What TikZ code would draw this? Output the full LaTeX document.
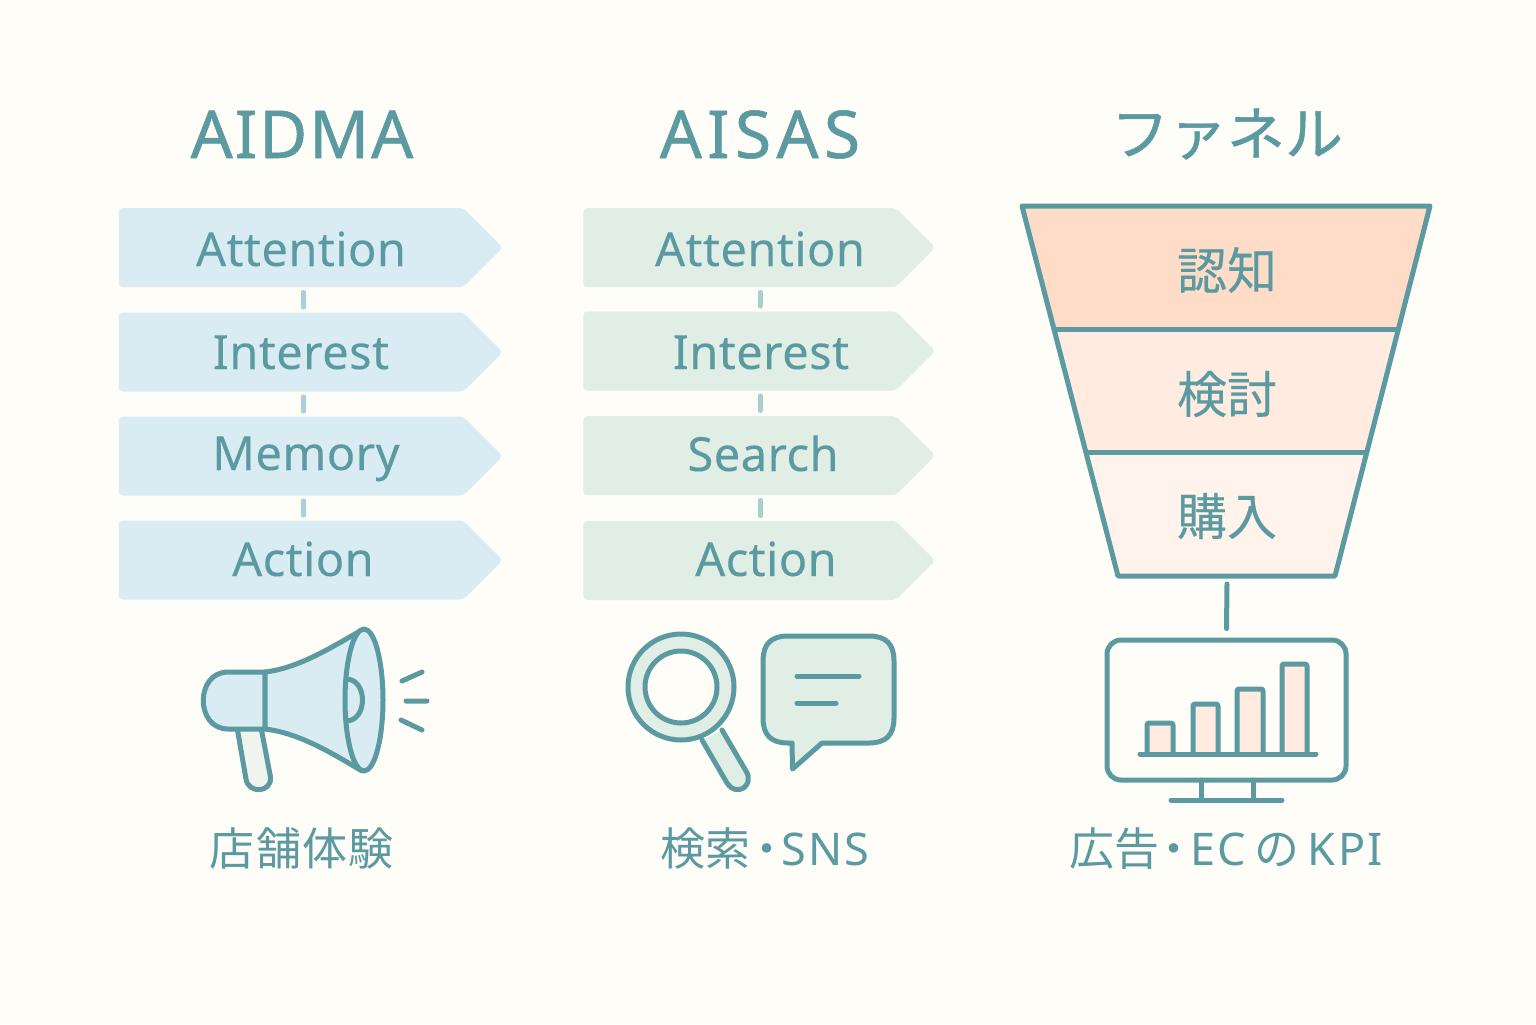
\documentclass[tikz,border=0pt]{standalone}
\usepackage{fontspec}
\setmainfont{Noto Sans}
\newfontfamily\cjk{Noto Sans CJK JP}
\usetikzlibrary{shapes.symbols}
\definecolor{paper}{HTML}{FFFDF8}
\definecolor{teal}{HTML}{5B9AA0}
\definecolor{linkblue}{HTML}{A9CFD9}
\definecolor{linkgreen}{HTML}{AACFCB}
\definecolor{skyfill}{HTML}{D9EBF3}
\definecolor{mintfill}{HTML}{E0EEE6}
\definecolor{peachA}{HTML}{FFDCC8}
\definecolor{peachB}{HTML}{FFEBE0}
\definecolor{peachC}{HTML}{FFF3EC}
\begin{document}
\begin{tikzpicture}[x=.5pt,y=-.5pt,line join=round,line cap=round]
	\tikzset{
		title/.style={text=teal,anchor=base},
		steptext/.style={text=teal,anchor=base,font=\fontsize{23.5}{28}\selectfont\addfontfeature{LetterSpace=1,FakeBold=0.15}},
		caption/.style={text=teal,anchor=base,font=\fontsize{22.5}{26}\selectfont},
		funneltext/.style={text=teal,font=\cjk\fontsize{25}{28}\selectfont\addfontfeature{FakeBold=0.3}},
		stepbox/.style={signal,signal to=east,signal pointer angle=90,rounded corners=2pt,
			minimum height=39.5pt,inner sep=0pt},
		aidmabox/.style={stepbox,fill=skyfill,minimum width=192pt},
		aisasbox/.style={stepbox,fill=mintfill,minimum width=176pt},
		icon/.style={draw=teal,line width=2.5pt},
		link/.style={line width=2.5pt}
	}
	\useasboundingbox[fill=paper] (0,0) rectangle (1536,1024);
	% titles
	\node[title,font=\fontsize{33}{36}\selectfont\addfontfeature{FakeBold=0.8,LetterSpace=3}] (aidma) at (302,158) {AIDMA};
	\node[title,font=\fontsize{33}{36}\selectfont\addfontfeature{FakeBold=0.8,LetterSpace=8}] (aisas) at (760,158) {AISAS};
	\node[text=teal,font=\cjk\fontsize{29}{32}\selectfont\addfontfeature{FakeBold=0.8}] (funnel) at (1227,134) {ファネル};
	% step columns
	\foreach \n/\y/\lab/\tx/\b in {1/247.5/Attention/301/266,2/352/Interest/301/369,3/456/Memory/306/470,4/560/Action/303/576}{
		\node[aidmabox] (a\n) at (291,\y) {};
		\node[steptext] (at\n) at (\tx,\b) {\lab};
	}
	\foreach \n/\y/\lab/\tx/\b in {1/247.5/Attention/760/266,2/351/Interest/761/369,3/455.5/Search/763/471,4/560.5/Action/766/576}{
		\node[aisasbox] (s\n) at (739.5,\y) {};
		\node[steptext] (st\n) at (\tx,\b) {\lab};
	}
	\foreach \a/\b in {1/2,2/3,3/4}{
		\draw[link,linkblue] ([shift={(12.5,5)}]a\a.south) -- ([shift={(12.5,-5)}]a\b.north);
		\draw[link,linkgreen] ([shift={(20.5,5)}]s\a.south) -- ([shift={(20.5,-5)}]s\b.north);
	}
	% funnel
	\coordinate (fbot) at (1227,576);
	\fill[peachA] (1022,206)--(1430,206)--(1396,329)--(1054,329)--cycle;
	\fill[peachB] (1054,329)--(1396,329)--(1364,452)--(1087,452)--cycle;
	\fill[peachC] (1087,452)--(1364,452)--(1335,576)--(1118,576)--cycle;
	\draw[icon] (1022,206)--(1430,206)--(1335,576)--(1118,576)--cycle;
	\draw[icon] (1054,329)--(1396,329);
	\draw[icon] (1087,452)--(1364,452);
	\node[funneltext] (f1) at (1227,270) {認知};
	\node[funneltext] (f2) at (1227,394) {検討};
	\node[funneltext] (f3) at (1227,516) {購入};
	% monitor
	\node[icon,rounded corners=7pt,minimum width=119.5pt,minimum height=70pt,inner sep=0pt] (monitor) at (1226.5,710) {};
	\draw[icon] ([shift={(0,8)}]fbot) -- ([shift={(0,-9)}]monitor.north);
	\foreach \l/\r/\t in {1147/1173/723,1193/1218/704,1237/1263/689,1282/1307/664}
		\draw[icon,fill=peachB,rounded corners=1pt] (\l,754)--(\l,\t)--(\r,\t)--(\r,754);
	\draw[icon] (1140,754)--(1316,754);
	\draw[icon] (1201,780)--(1201,800) (1253,780)--(1253,800) (1171,800)--(1282,800);
	% megaphone
	\draw[icon,fill=black!3!mintfill!40!paper] (237.5,730)--(246,779) .. controls (248,794) and (272,793) .. (270.5,777)--(261.5,730);
	\draw[icon,fill=skyfill] (265,672)--(228,672) .. controls (195,672) and (195,729) .. (228,729)--(265,729)--cycle;
	\draw[icon,fill=skyfill] (265,672) .. controls (300,668) and (335,645) .. (362,630)
		-- (362,771) .. controls (335,755) and (300,733) .. (265,729)--cycle;
	\draw[icon,fill=skyfill] (364,700) ellipse [x radius=19,y radius=71];
	\draw[icon] (346,679) .. controls (368,679) and (368,721) .. (346,721);
	\draw[icon] (402,681)--(422,672) (406,701)--(427,701) (401,720)--(422,730);
	% magnifier and bubble
	\draw[icon,fill=mintfill] (702,740)--(727,783) .. controls (737,798) and (755,785) .. (746,771)--(722,730);
	\draw[icon,fill=mintfill] (681,687) circle [radius=53];
	\draw[icon,fill=paper] (681,687) circle [radius=36];
	\draw[icon,fill=mintfill] (788,636)--(869,636) .. controls (886,636) and (894,644) .. (894,661)
		--(894,718) .. controls (894,735) and (886,743) .. (869,743)--(822,743)--(792.5,769)--(792,743)--(788,743)
		.. controls (771,743) and (763,735) .. (763,718)--(763,661) .. controls (763,644) and (771,636) .. (788,636)--cycle;
	\draw[icon] (797,676)--(859,676) (797,703)--(836,703);
	% captions
	\node[caption] (c1) at (302,865) {\cjk\addfontfeature{LetterSpace=3}店舗体験};
	\node[caption] (c2) at (765,865) {{\cjk 検索\kern-3pt・\kern-4pt}{\addfontfeature{LetterSpace=5}SNS}};
	\node[caption] (c3) at (1226,865) {{\cjk 広告\kern-4pt・\kern-3pt}{\addfontfeature{LetterSpace=5}EC}\kern4.5pt{\cjk の}\kern4pt{\addfontfeature{LetterSpace=5}KPI}};
\end{tikzpicture}
\end{document}
